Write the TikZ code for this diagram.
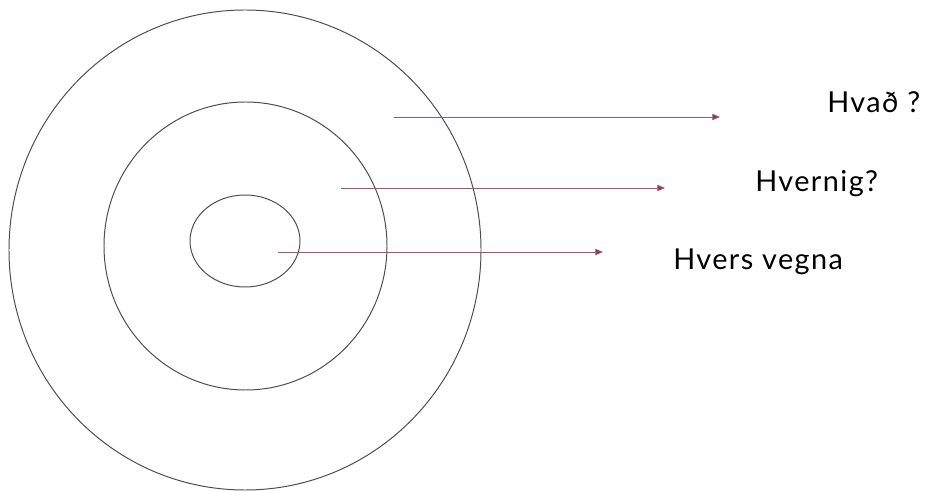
\documentclass[tikz,border=0pt]{standalone}
\usepackage{fontspec}
\setmainfont{Lato}[LetterSpace=5]
\usetikzlibrary{arrows.meta}
\definecolor{pilcol}{RGB}{135,60,80}

\begin{document}
\begin{tikzpicture}[
  x=0.025cm, y=-0.025cm,
  ring/.style={draw=black!70,line width=0.7pt},
  pil/.style={draw=pilcol!85,line width=0.6pt,-{Triangle[length=5.5pt,width=4.5pt,fill=pilcol]}},
  lbl/.style={font=\fontsize{20.5}{24}\selectfont,anchor=base west,inner sep=0pt}
]
  \useasboundingbox (0,0) rectangle (928,491);

  % rings
  \draw[ring] (245,250) ellipse [x radius=236, y radius=240];
  \draw[ring] (245.5,246) ellipse [x radius=141.5, y radius=144];
  \draw[ring] (245,241) ellipse [x radius=55, y radius=46];

  % labels
  \node[lbl] (hvad) at (827,113) {Hvað ?};
  \node[lbl] (hvernig) at (755,192) {Hvernig?};
  \node[lbl] (hvers) at (673,270) {Hvers vegna};

  % arrow ends
  \coordinate (a1) at (394,117);
  \coordinate (b1) at (720,117);
  \coordinate (a2) at (341,188);
  \coordinate (b2) at (665,188);
  \coordinate (a3) at (278,252);
  \coordinate (b3) at (603,252);

  \draw[pil] (a1) -- (b1);
  \draw[pil] (a2) -- (b2);
  \draw[pil] (a3) -- (b3);
\end{tikzpicture}
\end{document}
